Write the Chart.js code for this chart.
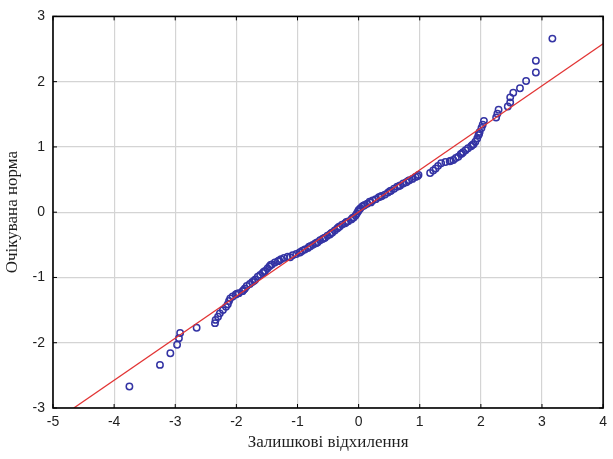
<!DOCTYPE html>
<html lang="uk">

<head>
    <meta charset="UTF-8">
    <title>Нормальний імовірнісний графік залишків</title>
    <script src="https://cdn.jsdelivr.net/npm/chart.js"></script>
    <style>
        html, body { margin: 0; padding: 0; background: #ffffff; }
        .graph { width: 613px; height: 459px; }
    </style>
</head>

<body>
    <div class="graph">
        <canvas id="graficoResiduos"></canvas>
    </div>
</body>

<script>

    // залишкові відхилення (вісь X) та очікувана норма (вісь Y)
    const residuos = [
        -3.75, -3.25, -3.08, -2.97, -2.94, -2.92, -2.65, -2.35, -2.34, -2.30,
        -2.27, -2.22, -2.17, -2.14, -2.12, -2.10, -2.06, -2.01, -1.96, -1.90,
        -1.86, -1.83, -1.78, -1.74, -1.69, -1.65, -1.61, -1.57, -1.53, -1.49,
        -1.46, -1.42, -1.37, -1.32, -1.27, -1.22, -1.16, -1.08, -1.02, -0.97,
        -0.92, -0.88, -0.83, -0.79, -0.75, -0.71, -0.67, -0.63, -0.59, -0.55,
        -0.51, -0.47, -0.43, -0.39, -0.35, -0.31, -0.27, -0.22, -0.17, -0.12,
        -0.08, -0.05, -0.03, -0.01, 0.01, 0.03, 0.06, 0.10, 0.14, 0.18,
        0.23, 0.28, 0.33, 0.38, 0.43, 0.48, 0.53, 0.58, 0.63, 0.68,
        0.73, 0.78, 0.83, 0.88, 0.93, 0.98, 1.17, 1.22, 1.26, 1.30,
        1.35, 1.42, 1.49, 1.55, 1.59, 1.63, 1.67, 1.71, 1.75, 1.79,
        1.84, 1.88, 1.91, 1.94, 1.96, 1.98, 2.01, 2.03, 2.05, 2.25,
        2.27, 2.29, 2.44, 2.48, 2.48, 2.53, 2.64, 2.74, 2.90, 2.90,
        3.17,
        -1.99, -1.88, -1.71, -1.55, -1.44, -1.30, -1.12, -0.95, -0.81, -0.69,
        -0.57, -0.45, -0.33, -0.20, -0.10, 0.00, 0.08, 0.20, 0.36, 0.51,
        0.66, 0.81, 0.96, 1.51, 1.69, 1.86, 1.97
    ];
    const normaEsperada = [
        -2.67, -2.34, -2.16, -2.03, -1.93, -1.85, -1.77, -1.70, -1.65, -1.60,
        -1.55, -1.50, -1.45, -1.41, -1.36, -1.32, -1.29, -1.26, -1.24, -1.21,
        -1.17, -1.13, -1.10, -1.07, -1.03, -0.99, -0.96, -0.93, -0.90, -0.86,
        -0.83, -0.80, -0.77, -0.75, -0.72, -0.70, -0.68, -0.66, -0.64, -0.62,
        -0.59, -0.57, -0.55, -0.52, -0.50, -0.48, -0.46, -0.43, -0.41, -0.39,
        -0.36, -0.34, -0.31, -0.28, -0.25, -0.22, -0.19, -0.17, -0.14, -0.11,
        -0.08, -0.05, -0.02, 0.01, 0.04, 0.06, 0.09, 0.11, 0.13, 0.16,
        0.18, 0.20, 0.23, 0.25, 0.27, 0.30, 0.33, 0.36, 0.39, 0.41,
        0.44, 0.46, 0.49, 0.51, 0.54, 0.57, 0.60, 0.64, 0.67, 0.71,
        0.75, 0.77, 0.78, 0.80, 0.83, 0.85, 0.89, 0.92, 0.95, 0.98,
        1.01, 1.04, 1.08, 1.13, 1.18, 1.23, 1.29, 1.34, 1.40, 1.45,
        1.51, 1.57, 1.62, 1.68, 1.76, 1.83, 1.90, 2.01, 2.14, 2.32,
        2.66,
        -1.25, -1.19, -1.05, -0.91, -0.81, -0.74, -0.69, -0.61, -0.53, -0.47,
        -0.40, -0.32, -0.23, -0.15, -0.09, 0.03, 0.10, 0.15, 0.24, 0.32,
        0.40, 0.48, 0.55, 0.79, 0.90, 1.03, 1.20
    ];

    // пряма нормального розподілу
    const linhaX = [-4.66, 4];
    const linhaY = [-3.0, 2.58];

    const ticksX = [-5, -4, -3, -2, -1, 0, 1, 2, 3, 4];
    const ticksY = [-3, -2, -1, 0, 1, 2, 3];

    let pontos = [];
    for (let i = 0; i < residuos.length; i++) {
        pontos.push({ x: residuos[i], y: normaEsperada[i] });
    }

    let linha = [];
    for (let i = 0; i < linhaX.length; i++) {
        linha.push({ x: linhaX[i], y: linhaY[i] });
    }

    // рамка навколо області графіка та внутрішні засічки
    const moldura = {
        id: 'moldura',
        afterDraw(chart) {
            const ctx = chart.ctx;
            const a = chart.chartArea;
            const sx = chart.scales.x;
            const sy = chart.scales.y;
            ctx.save();
            ctx.strokeStyle = '#000000';
            ctx.lineWidth = 1.6;
            ctx.strokeRect(a.left, a.top, a.right - a.left, a.bottom - a.top);
            ctx.lineWidth = 1;
            ctx.beginPath();
            ticksX.forEach(v => {
                const px = sx.getPixelForValue(v);
                ctx.moveTo(px, a.top);
                ctx.lineTo(px, a.top + 4);
                ctx.moveTo(px, a.bottom);
                ctx.lineTo(px, a.bottom - 4);
            });
            ticksY.forEach(v => {
                const py = sy.getPixelForValue(v);
                ctx.moveTo(a.left, py);
                ctx.lineTo(a.left + 4, py);
                ctx.moveTo(a.right, py);
                ctx.lineTo(a.right - 4, py);
            });
            ctx.stroke();
            ctx.restore();
        }
    };

    const config = {
        type: 'scatter',
        data: {
            datasets: [{
                label: 'Норма',
                data: linha,
                showLine: true,
                borderColor: '#e23434',
                borderWidth: 1.3,
                pointRadius: 0,
                fill: false
            },
            {
                label: 'Залишки',
                data: pontos,
                pointRadius: 3.2,
                pointBorderWidth: 1.5,
                pointBorderColor: '#3434a4',
                pointBackgroundColor: 'rgba(0,0,0,0)'
            }]
        },
        options: {
            responsive: true,
            maintainAspectRatio: false,
            animation: false,
            layout: { padding: { left: 0, right: 7, top: 15, bottom: 0 } },
            plugins: {
                legend: { display: false },
                tooltip: { enabled: false }
            },
            scales: {
                x: {
                    type: 'linear',
                    min: -5,
                    max: 4,
                    afterBuildTicks: (scale) => { scale.ticks = ticksX.map(v => ({ value: v })); },
                    afterFit: (scale) => { scale.height = 51; },
                    grid: { color: '#d4d4d4', lineWidth: 1.2, drawTicks: false },
                    border: { display: false },
                    ticks: {
                        padding: 6,
                        color: '#1e1e1e',
                        font: { family: 'Liberation Sans', size: 14 }
                    },
                    title: {
                        display: true,
                        text: 'Залишкові відхилення',
                        color: '#1e1e1e',
                        padding: { top: 2, bottom: 6 },
                        font: { family: 'Liberation Serif', size: 17 }
                    }
                },
                y: {
                    type: 'linear',
                    min: -3,
                    max: 3,
                    afterBuildTicks: (scale) => { scale.ticks = ticksY.map(v => ({ value: v })); },
                    afterFit: (scale) => { scale.width = 53; },
                    grid: { color: '#d4d4d4', lineWidth: 1.2, drawTicks: false },
                    border: { display: false },
                    ticks: {
                        padding: 8,
                        color: '#1e1e1e',
                        font: { family: 'Liberation Sans', size: 14 }
                    },
                    title: {
                        display: true,
                        text: 'Очікувана норма',
                        color: '#1e1e1e',
                        padding: { top: 2, bottom: 2 },
                        font: { family: 'Liberation Serif', size: 17 }
                    }
                }
            }
        },
        plugins: [moldura]
    };

    let grafico = new Chart(
        document.getElementById('graficoResiduos'),
        config
    );

</script>

</html>
